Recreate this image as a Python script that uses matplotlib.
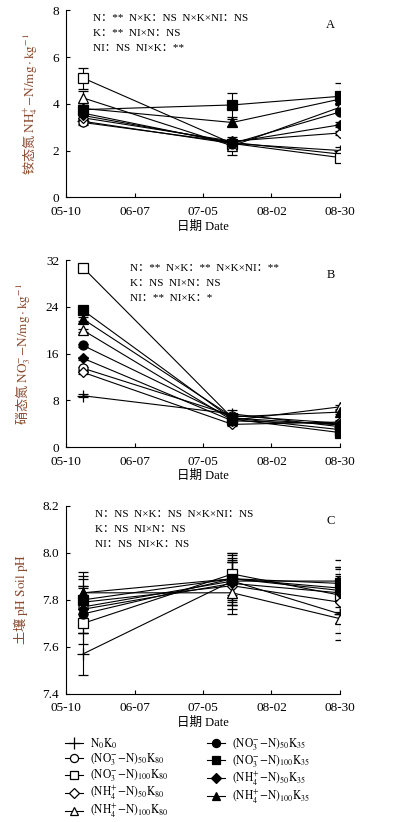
import numpy as np
import pandas as pd
import matplotlib
matplotlib.use("Agg")
import matplotlib.pyplot as plt
from matplotlib.lines import Line2D

plt.rcParams['mathtext.fontset'] = 'stix'
plt.rcParams['font.family'] = ['Liberation Serif', 'Noto Sans CJK SC', 'DejaVu Serif']

# sampling dates and tick labels
sample_dates = pd.to_datetime(['2019-05-17', '2019-07-17', '2019-08-30'])
tick_dates = pd.to_datetime(['2019-05-10', '2019-06-07', '2019-07-05', '2019-08-02', '2019-08-30'])
tick_labels = ['05-10', '06-07', '07-05', '08-02', '08-30']

treatments = [r'$\mathrm{N_0K_0}$',
              r'$\mathrm{(NO_3^{-}\!-\!N)_{50}K_{80}}$',
              r'$\mathrm{(NO_3^{-}\!-\!N)_{100}K_{80}}$',
              r'$\mathrm{(NH_4^{+}\!-\!N)_{50}K_{80}}$',
              r'$\mathrm{(NH_4^{+}\!-\!N)_{100}K_{80}}$',
              r'$\mathrm{(NO_3^{-}\!-\!N)_{50}K_{35}}$',
              r'$\mathrm{(NO_3^{-}\!-\!N)_{100}K_{35}}$',
              r'$\mathrm{(NH_4^{+}\!-\!N)_{50}K_{35}}$',
              r'$\mathrm{(NH_4^{+}\!-\!N)_{100}K_{35}}$']

# ammonium N (mg/kg)
nh4 = [[3.25, 2.30, 2.00],
       [3.20, 2.35, 1.85],
       [5.10, 2.30, 1.70],
       [3.40, 2.40, 2.75],
       [4.25, 2.20, 3.85],
       [3.60, 2.30, 3.65],
       [3.75, 3.95, 4.32],
       [3.50, 2.35, 3.10],
       [3.80, 3.20, 4.20]]
nh4_err = [[0.10, 0.15, 0.15],
           [0.10, 0.10, 0.10],
           [0.45, 0.15, 0.10],
           [0.10, 0.10, 0.10],
           [0.30, 0.40, 0.10],
           [0.10, 0.10, 0.10],
           [0.20, 0.50, 0.55],
           [0.10, 0.10, 0.10],
           [0.15, 0.15, 0.15]]

# nitrate N (mg/kg)
no3 = [[8.8, 5.7, 3.5],
       [13.5, 5.4, 4.1],
       [30.7, 5.0, 3.0],
       [12.8, 3.9, 4.3],
       [20.0, 4.6, 6.9],
       [17.4, 5.0, 3.8],
       [23.4, 4.8, 2.5],
       [15.2, 4.5, 4.0],
       [21.9, 5.2, 6.0]]
no3_err = [[0.3, 0.7, 0.3],
           [0.3, 0.3, 0.3],
           [0.3, 0.3, 0.3],
           [0.3, 0.3, 0.3],
           [0.3, 0.4, 0.3],
           [0.3, 0.3, 0.3],
           [0.3, 0.3, 0.3],
           [0.3, 0.3, 0.3],
           [0.3, 0.3, 0.3]]

# soil pH
ph = [[7.57, 7.88, 7.74],
      [7.77, 7.88, 7.88],
      [7.70, 7.91, 7.82],
      [7.79, 7.86, 7.79],
      [7.83, 7.83, 7.72],
      [7.74, 7.89, 7.84],
      [7.80, 7.89, 7.87],
      [7.76, 7.87, 7.83],
      [7.83, 7.89, 7.85]]
ph_err = [[0.09, 0.08, 0.08],
          [0.08, 0.10, 0.09],
          [0.09, 0.09, 0.08],
          [0.07, 0.10, 0.09],
          [0.07, 0.09, 0.09],
          [0.08, 0.11, 0.10],
          [0.09, 0.10, 0.07],
          [0.10, 0.09, 0.08],
          [0.09, 0.08, 0.08]]

markers = ['+', 'o', 's', 'D', '^', 'o', 's', 'D', '^']
filled = [True, False, False, False, False, True, True, True, True]
msizes = [9, 6.5, 6.5, 5.5, 6.5, 6.5, 6.5, 5.5, 6.5]

panels = [
    dict(data=nh4, err=nh4_err, ylim=(0, 8), yticks=[0, 2, 4, 6, 8], letter='A',
         ylabel=r'铵态氮 $\mathrm{NH_4^{+}\!-\!N/mg\cdot kg^{-1}}$', tx=0.10,
         stats=['N：**  N×K：NS  N×K×NI：NS', 'K：**  NI×N：NS', 'NI：NS  NI×K：**'],
         pos=[0.168, 0.760, 0.697, 0.2275]),
    dict(data=no3, err=no3_err, ylim=(0, 32), yticks=[0, 8, 16, 24, 32], letter='B',
         ylabel=r'硝态氮 $\mathrm{NO_3^{-}\!-\!N/mg\cdot kg^{-1}}$', tx=0.234,
         stats=['N：**  N×K：**  N×K×NI：**', 'K：NS  NI×N：NS', 'NI：**  NI×K：*'],
         pos=[0.168, 0.456, 0.697, 0.2275]),
    dict(data=ph, err=ph_err, ylim=(7.4, 8.2), yticks=[7.4, 7.6, 7.8, 8.0, 8.2], letter='C',
         ylabel=r'土壤 $\mathrm{pH\ Soil\ pH}$', tx=0.106,
         stats=['N：NS  N×K：NS  N×K×NI：NS', 'K：NS  NI×N：NS', 'NI：NS  NI×K：NS'],
         pos=[0.168, 0.156, 0.697, 0.2285]),
]

fig = plt.figure(figsize=(3.93, 8.22), dpi=100)
label_color = '#8a4a30'

for p in panels:
    ax = fig.add_axes(p['pos'])
    for i in range(len(treatments)):
        mfc = 'black' if filled[i] else 'white'
        ax.errorbar(sample_dates, p['data'][i], yerr=p['err'][i],
                    marker=markers[i], ms=msizes[i], mfc=mfc, mec='black', mew=0.9,
                    color='black', lw=0.8, elinewidth=0.8, capsize=3.5, capthick=0.8,
                    zorder=3)
    ax.set_xlim(tick_dates[0], tick_dates[-1])
    ax.set_xticks(tick_dates)
    ax.set_xticklabels(tick_labels)
    ax.set_ylim(*p['ylim'])
    ax.set_yticks(p['yticks'])
    if p['letter'] == 'C':
        ax.set_yticklabels(['%.1f' % v for v in p['yticks']])
    ax.tick_params(direction='in', length=3, width=0.8, labelsize=9.5)
    ax.tick_params(axis='x', pad=6)
    ax.tick_params(axis='y', pad=5)
    ax.spines['top'].set_visible(False)
    ax.spines['right'].set_visible(False)
    ax.spines['left'].set_linewidth(0.8)
    ax.spines['bottom'].set_linewidth(0.8)
    ax.set_ylabel(p['ylabel'], fontsize=9.5, color=label_color, labelpad=9,
                  family='Noto Sans CJK SC')
    ax.set_xlabel('日期 Date', fontsize=9, labelpad=2)
    ax.text(0.965, 0.92, p['letter'], transform=ax.transAxes, fontsize=9,
            ha='center', va='center')
    for k, line in enumerate(p['stats']):
        ax.text(p['tx'], 0.955 - k * 0.08, line, transform=ax.transAxes,
                fontsize=8, ha='left', va='center')

handles = []
for i in range(len(treatments)):
    mfc = 'black' if filled[i] else 'white'
    handles.append(Line2D([], [], color='black', lw=0.8, marker=markers[i],
                          ms=msizes[i] * 0.9, mfc=mfc, mec='black', mew=0.9,
                          label=treatments[i]))

fig.legend(handles=handles, loc='upper left', bbox_to_anchor=(0.145, 0.114),
           ncol=2, frameon=False, fontsize=8.3, handlelength=1.6,
           columnspacing=3.3, labelspacing=0.0, handletextpad=0.6,
           borderpad=0.2)

fig.savefig('out.png', dpi=100)
